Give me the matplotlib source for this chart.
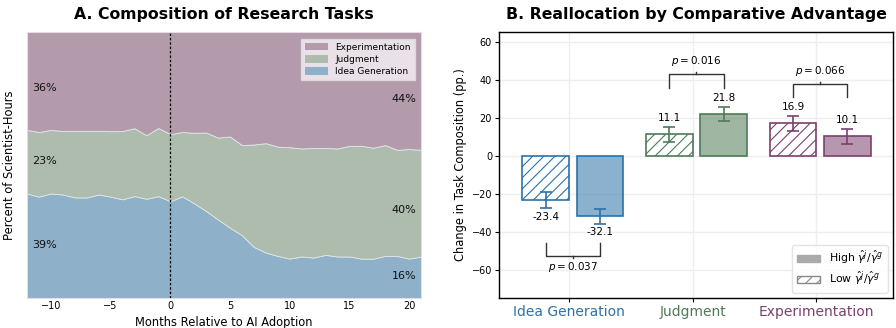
import numpy as np
import matplotlib
matplotlib.use("Agg")
import matplotlib.pyplot as plt
from matplotlib.patches import Patch

# ---------------- Data ----------------
months = list(range(-12, 22))
idea_share = [39.3, 38.1, 39.3, 38.9, 37.8, 37.8, 38.9, 38.1, 37.1, 38.3, 37.3, 38.3,
              36.4, 38.2, 35.6, 32.7, 29.5, 26.4, 23.6, 19.2, 17.1, 15.8, 14.8, 15.6,
              15.2, 16.2, 15.6, 15.6, 14.8, 14.8, 15.8, 15.8, 14.8, 15.6]
idea_plus_judgment = [63.2, 62.4, 63.2, 62.8, 62.8, 62.8, 62.8, 62.7, 62.8, 63.8, 61.2, 63.9,
                      61.6, 62.4, 62.1, 62.2, 60.3, 60.7, 57.5, 57.7, 58.2, 56.9, 56.7, 56.2,
                      56.4, 56.4, 56.2, 57.2, 57.2, 56.5, 57.5, 55.7, 56.0, 55.7]
judgment_share = [t - i for t, i in zip(idea_plus_judgment, idea_share)]
experiment_share = [100 - t for t in idea_plus_judgment]

series_names = ["Idea Generation", "Judgment", "Experimentation"]
pre_labels = ["39%", "23%", "36%"]
post_labels = ["16%", "40%", "44%"]

categories = ["Idea Generation", "Judgment", "Experimentation"]
low_vals = [-23.4, 11.1, 16.9]
high_vals = [-32.1, 21.8, 10.1]
low_err = [4.1, 3.8, 3.8]
high_err = [3.7, 3.8, 3.8]
p_values = ["0.037", "0.016", "0.066"]

# ---------------- Style ----------------
plt.rcParams['font.family'] = ['DejaVu Sans']
plt.rcParams['hatch.linewidth'] = 0.8
c_idea = "#2b73a7"
c_judg = "#4e7b56"
c_expt = "#7c406f"
cat_colors = [c_idea, c_judg, c_expt]
fill_colors = ["#8eb0c9", "#aebcad", "#b49bac"]

W, H = 896, 328
fig = plt.figure(figsize=(W / 100, H / 100), dpi=100)

def box(l, t, r, b):
    return [l / W, (H - b) / H, (r - l) / W, (b - t) / H]

# ---------------- Panel A ----------------
axA = fig.add_axes(box(27, 32, 421, 298))
axA.stackplot(months, idea_share, judgment_share, experiment_share,
              colors=fill_colors, edgecolor="#dfe6ea", linewidth=0.6)
axA.set_xlim(-12, 21)
axA.set_ylim(0, 100)
axA.axvline(0, color="black", linestyle=(0, (2, 1.5)), linewidth=0.9)
axA.set_yticks([])
axA.set_xticks([-10, -5, 0, 5, 10, 15, 20])
axA.tick_params(axis="x", labelsize=7, length=0, pad=2)
for s in axA.spines.values():
    s.set_color("#e4dde2")
    s.set_linewidth(0.8)
axA.set_xlabel("Months Relative to AI Adoption", fontsize=8.3, labelpad=4)
axA.set_ylabel("Percent of Scientist-Hours", fontsize=8.3, labelpad=8)
axA.set_title("A. Composition of Research Tasks", fontsize=11.3, fontweight="bold", pad=9)

pre_y = [19.8, 51.6, 78.9]
post_y = [8.2, 33.0, 75.0]
for lab, y in zip(pre_labels, pre_y):
    axA.text(-11.6, y, lab, fontsize=8, ha="left", va="center", color="#111111")
for lab, y in zip(post_labels, post_y):
    axA.text(20.6, y, lab, fontsize=8, ha="right", va="center", color="#111111")

handlesA = [Patch(facecolor=fill_colors[2], label=series_names[2]),
            Patch(facecolor=fill_colors[1], label=series_names[1]),
            Patch(facecolor=fill_colors[0], label=series_names[0])]
legA = axA.legend(handles=handlesA, loc="upper right", fontsize=6.5, frameon=True,
                  fancybox=False, borderpad=0.4, handlelength=2.6, handleheight=0.9,
                  labelspacing=0.35, bbox_to_anchor=(0.995, 0.99))
legA.get_frame().set_facecolor("#f0e9ee")
legA.get_frame().set_edgecolor("#dddddd")
legA.get_frame().set_alpha(0.9)

# ---------------- Panel B ----------------
axB = fig.add_axes(box(499, 32, 893, 298))
x = np.arange(len(categories))
w = 0.378
gap = 0.06
low_pos = x - w / 2
high_pos = x + gap + w / 2
for i in range(len(categories)):
    col = cat_colors[i]
    axB.bar(low_pos[i], low_vals[i], width=w, facecolor="white", edgecolor=col,
            hatch="///", linewidth=1.2, zorder=3)
    axB.bar(high_pos[i], high_vals[i], width=w, facecolor=col, alpha=0.55,
            edgecolor="none", zorder=3)
    axB.bar(high_pos[i], high_vals[i], width=w, facecolor="none", edgecolor=col,
            linewidth=1.2, zorder=4)
    axB.errorbar(low_pos[i], low_vals[i], yerr=low_err[i], color=col, capsize=4,
                 linewidth=1.2, capthick=1.2, zorder=5)
    axB.errorbar(high_pos[i], high_vals[i], yerr=high_err[i], color=col, capsize=4,
                 linewidth=1.2, capthick=1.2, zorder=5)
    for pos, v, e in ((low_pos[i], low_vals[i], low_err[i]),
                      (high_pos[i], high_vals[i], high_err[i])):
        if v >= 0:
            axB.text(pos, v + e + 2.0, f"{v:.1f}", ha="center", va="bottom", fontsize=7.5)
        else:
            axB.text(pos, v - e - 2.0, f"{v:.1f}", ha="center", va="top", fontsize=7.5)

# brackets
bracket_specs = [(-53.0, -46.0, -58.8), (43.0, 35.6, 49.6), (37.7, 30.9, 44.7)]
for i, (yh, yend, ytxt) in enumerate(bracket_specs):
    x1, x2 = low_pos[i], high_pos[i]
    axB.plot([x1, x1, x2, x2], [yend, yh, yh, yend], color="#333333", lw=1.0, zorder=6)
    xm = (x1 + x2) / 2
    d = -1.2 if yh < 0 else 1.2
    axB.plot([xm, xm], [yh, yh + d], color="#333333", lw=1.0, zorder=6)
    axB.text(xm, ytxt, rf"$p = {p_values[i]}$", ha="center", va="center", fontsize=7.5)

axB.set_xlim(-0.568, 2.62)
axB.set_ylim(-75, 65)
axB.set_yticks([-60, -40, -20, 0, 20, 40, 60])
axB.set_xticks(x)
axB.set_xticklabels(categories, fontsize=10)
for lab, col in zip(axB.get_xticklabels(), cat_colors):
    lab.set_color(col)
axB.tick_params(axis="y", labelsize=7, length=3, width=0.8, pad=2)
axB.tick_params(axis="x", length=3, width=0.8, pad=2)
axB.grid(True, color="#eeeeee", linewidth=1.0, zorder=0)
axB.set_axisbelow(True)
for s in axB.spines.values():
    s.set_color("black")
    s.set_linewidth(1.0)
axB.set_ylabel("Change in Task Composition (pp.)", fontsize=8.3, labelpad=3)
axB.set_title("B. Reallocation by Comparative Advantage", fontsize=11.3, fontweight="bold", pad=9)

handlesB = [Patch(facecolor="#aaaaaa", edgecolor="#aaaaaa", label=r"High $\hat{\gamma}^j/\hat{\gamma}^g$"),
            Patch(facecolor="white", edgecolor="#888888", hatch="///", label=r"Low $\hat{\gamma}^j/\hat{\gamma}^g$")]
legB = axB.legend(handles=handlesB, loc="lower right", fontsize=7.8, frameon=True,
                  fancybox=True, handlelength=2.2, borderpad=0.4, labelspacing=0.3)
legB.get_frame().set_edgecolor("#dddddd")

fig.savefig("out.png", dpi=100)
